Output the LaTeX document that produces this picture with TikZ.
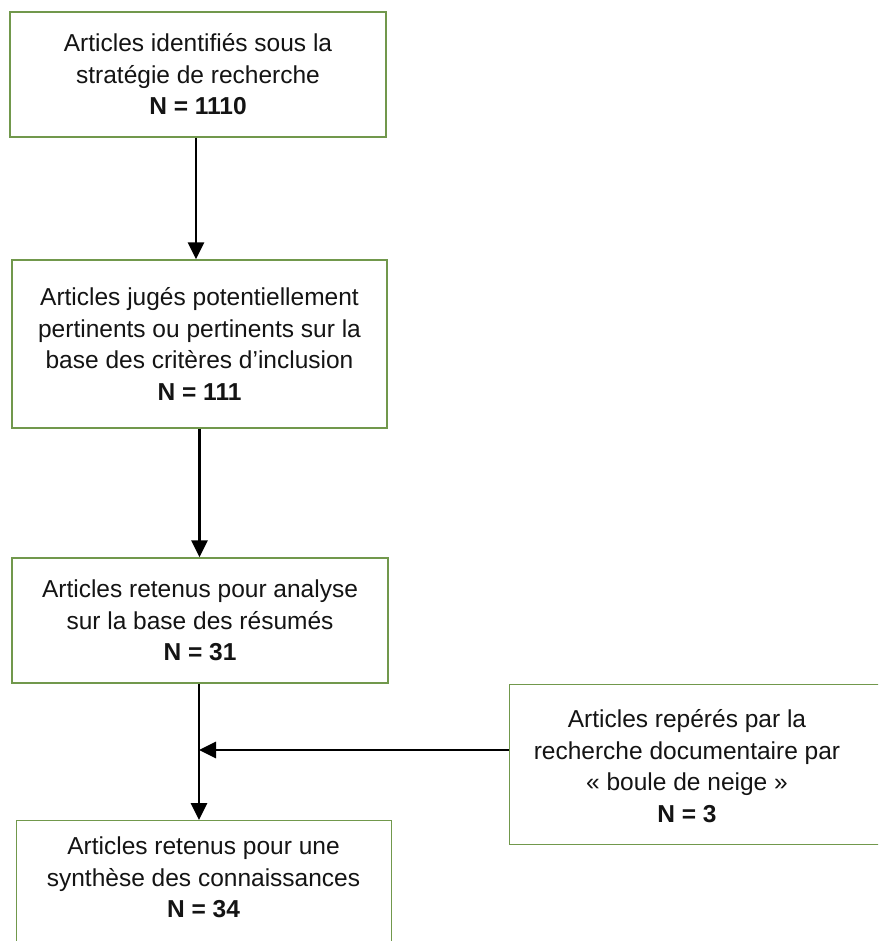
\documentclass[tikz,border=0pt]{standalone}
\usepackage{fontspec}
\setmainfont{Liberation Sans}
\usetikzlibrary{arrows.meta}
\definecolor{boxgreen}{RGB}{113,152,76}
\definecolor{inkc}{RGB}{20,20,20}
\begin{document}
\begin{tikzpicture}[x=1pt,y=-1pt,
  boxtext/.style={text=inkc, align=center, font=\fontsize{24.5}{31.5}\selectfont},
  box/.style={draw=boxgreen, line width=1.4pt, rectangle, inner sep=0pt, boxtext},
  arr/.style={draw=black, line width=2.8pt, -{Triangle[width=16pt,length=17pt]}}]
\clip (0,0) rectangle (878,941);
\fill[white] (0,0) rectangle (878,941);
\node[box, minimum width=376pt, minimum height=125pt] (b1) at (198,74.5)
  {Articles identifiés sous la\\stratégie de recherche\\\textbf{N = 1110}};
\node[box, minimum width=375pt, minimum height=168pt] (b2) at (199.5,344)
  {Articles jugés potentiellement\\pertinents ou pertinents sur la\\base des critères d’inclusion\\\textbf{N = 111}};
\node[box, minimum width=376pt, minimum height=125pt] (b3) at (200,620.5)
  {Articles retenus pour analyse\\sur la base des résumés\\\textbf{N = 31}};
\node[box, anchor=north west, minimum width=380pt, minimum height=160pt] (rb) at (509,684) {};
\node[boxtext] (rbt) at (687,766)
  {Articles repérés par la\\recherche documentaire par\\« boule de neige »\\\textbf{N = 3}};
\node[box, anchor=north west, minimum width=375pt, minimum height=140pt] (b4) at (16,820) {};
\node[boxtext] (b4t) at (203.5,877.5)
  {Articles retenus pour une\\synthèse des connaissances\\\textbf{N = 34}};
\coordinate (j) at (199,750);
\draw[arr] ([xshift=-2pt]b1.south) -- ([xshift=-2pt]b1.south |- b2.north);
\draw[arr] (b2.south) -- (b2.south |- b3.north);
\draw[arr] (b3.south -| j) -- (j |- b4.north);
\draw[arr] (rb.west |- j) -- (j);
\end{tikzpicture}
\end{document}
